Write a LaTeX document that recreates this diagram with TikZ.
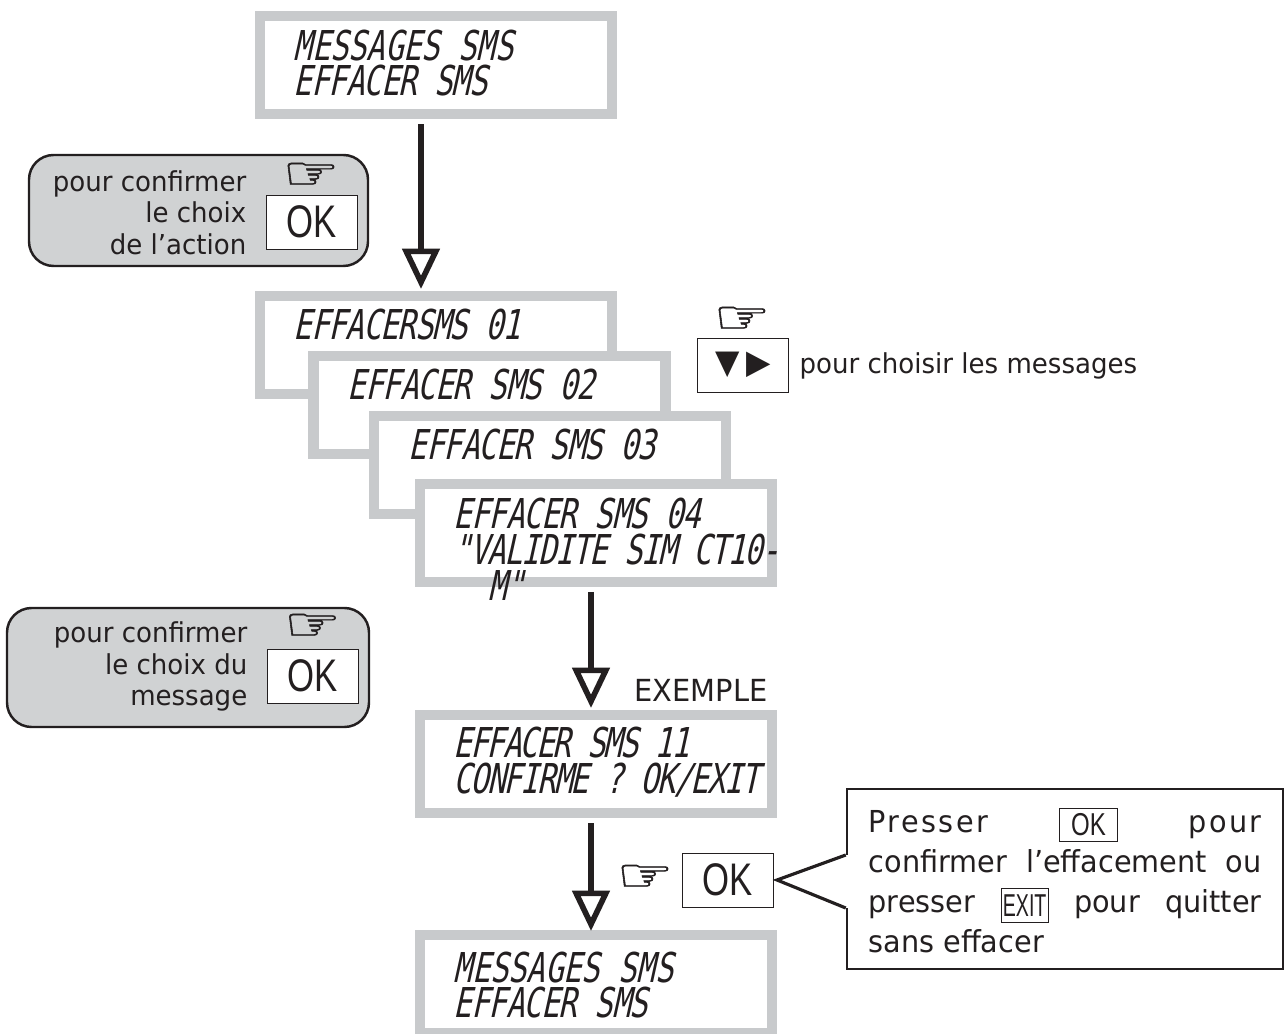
\documentclass[tikz,border=0pt]{standalone}
\usepackage{fontspec}
\setmainfont[FakeStretch=0.95]{DejaVu Sans}
\newfontfamily\lcdfont[FakeStretch=0.74,FakeSlant=0.22]{DejaVu Sans Mono}
\newfontfamily\okfont[FakeStretch=0.76]{Liberation Sans}
\newfontfamily\handfont[FakeStretch=1.4,FakeBold=1.2]{DejaVu Sans}
\usetikzlibrary{arrows.meta}
\definecolor{lcdgray}{RGB}{200,202,204}
\definecolor{bubblegray}{RGB}{208,210,211}
\definecolor{inkdark}{RGB}{35,31,32}
\tikzset{
  lcdbox/.style={draw=lcdgray,line width=2.85pt,fill=white,minimum width=3.52cm,minimum height=0.98cm,inner sep=0pt},
  lcdtext/.style={anchor=west,align=left,inner sep=0pt,text=inkdark,font=\lcdfont\fontsize{11.7}{10.2}\selectfont},
  flow/.style={draw=inkdark,line width=1.6pt,-{Triangle[open,length=11.5pt,width=10.5pt,line width=1.6pt]}},
  bubble/.style={draw=inkdark,line width=0.7pt,fill=bubblegray,rounded corners=7pt,inner sep=0pt},
  bubbletext/.style={anchor=east,align=right,inner sep=0pt,text=inkdark,font=\fontsize{7.8}{9}\selectfont},
  keybox/.style={draw=inkdark,line width=0.25pt,fill=white,inner sep=0pt,minimum width=0.91cm,minimum height=0.54cm,text=inkdark,font=\okfont\fontsize{13}{13}\selectfont},
  hand/.style={inner sep=0pt,text=inkdark,font=\handfont\fontsize{13}{13}\selectfont},
  plain/.style={inner sep=0pt,text=inkdark,font=\fontsize{7.8}{9}\selectfont},
  callbox/.style={draw=inkdark,line width=0.7pt,fill=white,inner sep=0pt,minimum width=4.36cm,minimum height=1.8cm}
}
\newcommand{\lcdsp}[1]{\addfontfeature{LetterSpace=#1}}
\newcommand{\smallkey}[2]{\tikz[baseline={([yshift=1.1pt]k.base)}]\node[draw=inkdark,line width=0.25pt,inner sep=0pt,minimum width=#1,minimum height=9.6pt,font=\okfont\fontsize{9}{9}\selectfont] (k) {#2};}
\begin{document}
\begin{tikzpicture}
  \useasboundingbox (0,0) rectangle (12.87,-10.34);

  % ecrans
  \node[lcdbox] (menu) at (4.36,-0.65) {};
  \node[lcdbox] (sms1) at (4.36,-3.45) {};
  \node[lcdbox] (sms2) at (4.895,-4.05) {};
  \node[lcdbox] (sms3) at (5.50,-4.65) {};
  \node[lcdbox] (sms4) at (5.96,-5.33) {};
  \node[lcdbox] (confirm) at (5.96,-7.64) {};
  \node[lcdbox] (final) at (5.96,-9.84) {};

  \node[lcdtext] (menutext) at (2.93,-0.63) {MESSAGES SMS\\{\lcdsp{-2}EFFACER SMS}};
  \node[lcdtext] (sms1text) at (2.93,-3.25) {\lcdsp{-2.4}EFFACERSMS 01};
  \node[lcdtext] (sms2text) at (3.47,-3.85) {\lcdsp{-2}EFFACER SMS 02};
  \node[lcdtext] (sms3text) at (4.08,-4.45) {\lcdsp{-2}EFFACER SMS 03};
  \node[lcdtext] (sms4text) at (4.53,-5.49) {{\lcdsp{-2}EFFACER SMS 04}\\{\lcdsp{-3.4}"VALIDITE SIM CT10-}\\\hspace*{0.85em}M"};
  \node[lcdtext] (confirmtext) at (4.53,-7.62) {{\lcdsp{-4.5}EFFACER SMS 11}\\{\lcdsp{-3.9}CONFIRME ? OK/EXIT}};
  \node[lcdtext] (finaltext) at (4.53,-9.85) {MESSAGES SMS\\{\lcdsp{-2}EFFACER SMS}};

  % fleches
  \draw[flow] (menu.south -| 4.21,0) ++(0,-0.05) -- (4.21,-2.89);
  \draw[flow] (5.91,-5.92) -- (5.91,-7.08);
  \draw[flow] (5.91,-8.23) -- (5.91,-9.31);

  % bulles
  \node[bubble,minimum width=3.39cm,minimum height=1.11cm] (bubbleA) at (1.985,-2.105) {};
  \node[bubbletext] (bubbleAtext) at (2.47,-2.125) {pour confirmer\\le choix\\de l’action};
  \node[keybox] (okA) at (3.12,-2.22) {OK};
  \node[hand] (handA) at (3.11,-1.76) {☞};

  \node[bubble,minimum width=3.62cm,minimum height=1.19cm] (bubbleB) at (1.88,-6.675) {};
  \node[bubbletext] (bubbleBtext) at (2.48,-6.665) {pour confirmer\\le choix du\\message};
  \node[keybox] (okB) at (3.125,-6.76) {OK};
  \node[hand] (handB) at (3.125,-6.27) {☞};

  % touches
  \node[keybox,font=\fontsize{9.5}{9.5}\selectfont] (arrows) at (7.43,-3.65) {▼\hspace{0.2em}▶};
  \node[hand] (handC) at (7.42,-3.20) {☞};
  \node[plain,anchor=west] (choose) at (7.99,-3.66) {pour choisir les messages};
  \node[plain,anchor=west,font=\fontsize{8.65}{9}\selectfont] (example) at (6.34,-6.90) {EXEMPLE};
  \node[keybox] (okC) at (7.28,-8.80) {OK};
  \node[hand] (handD) at (6.45,-8.78) {☞};

  % cartouche
  \coordinate (tip) at (7.77,-8.80);
  \node[callbox] (note) at (10.65,-8.79) {};
  \coordinate (noteup) at (note.west |- 0,-8.55);
  \coordinate (notedown) at (note.west |- 0,-9.08);
  \draw[white,line width=1pt] (noteup) -- (notedown);
  \draw[inkdark,line width=0.9pt] (noteup) -- (tip) -- (notedown);
  \node[anchor=north west,inner sep=0pt,text width=3.93cm,align=justify,text=inkdark,font=\fontsize{8.6}{11.4}\selectfont] (notetext) at (8.68,-8.07)
    {{\addfontfeature{LetterSpace=8}Presser} \smallkey{16.5pt}{OK} {\addfontfeature{LetterSpace=8}pour}\linebreak confirmer l’effacement ou\linebreak presser \smallkey{13.5pt}{\addfontfeature{FakeStretch=0.62}EXIT} pour quitter\linebreak sans effacer};
\end{tikzpicture}
\end{document}
